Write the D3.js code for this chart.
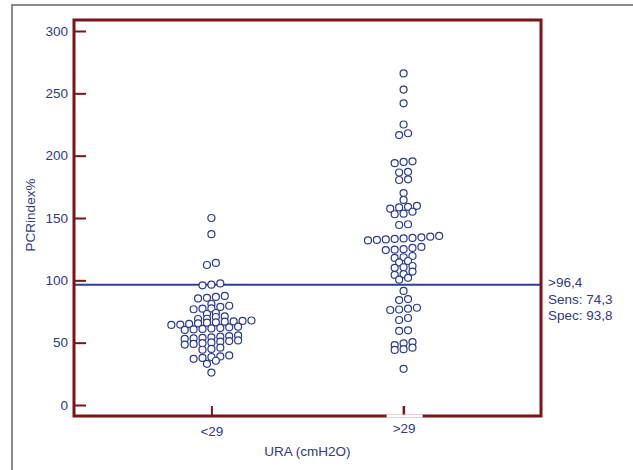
<!DOCTYPE html>
<html lang="en">
<head>
    <meta charset="UTF-8">
    <title>PCRindex% by URA - D3.js</title>
    <script src="https://d3js.org/d3.v7.min.js"></script>
    <style>
        body { margin: 0; background: #fff; }
        text { font-family: "Liberation Sans", Arial, sans-serif; font-size: 13.5px; fill: #2e3a85; }
        .dot { fill: #fff; stroke: #2b3a8c; stroke-width: 1.2px; }
    </style>
</head>
<body>
<svg width="633" height="470"></svg>
<script>
    // categories and values
    const categories = ["<29", ">29"];
    const lowGroup = [150, 137, 114, 112.3,
        96, 96.5, 97.5,
        85.5, 86, 86.7, 87.5,
        81,
        76.8, 77.3, 77.5, 78.7, 79.6,
        73, 73.8,
        69, 69.2, 70.6, 71.1,
        64.2, 64.5, 65, 65.5, 66, 66.3, 66.8, 67, 67.4, 67.8,
        60.2, 60.6, 61, 61.4, 61.8, 62.3, 62.8,
        53, 53.4, 53.8, 54.3, 54.8, 55.3, 55.8,
        48.5, 49, 49.6, 50.2, 50.8, 51.3, 51.8,
        44.3, 45, 46,
        37, 37.8, 38.5, 39, 39.8,
        33, 35.5,
        26];
    const highGroup = [266, 253, 242, 225, 216.5, 218,
        194, 195, 195.5,
        186.5, 187,
        180.5, 181,
        170, 164.5,
        157.5, 158.5, 159, 159.8,
        153, 153.5, 155,
        144.4, 145,
        132, 132.4, 132.8, 133.2, 133.6, 134, 134.5, 135, 135.6,
        124.3, 124.6, 125, 126, 126.8,
        118, 118.5, 119.5,
        114.4, 115.5,
        110, 110.5, 111.5,
        104.3, 105, 107,
        100.5, 102,
        91.5,
        84.2, 85,
        76.2, 76.6, 77.3, 78,
        68.2, 69.8,
        59.4, 59.9,
        48.1, 49.5, 50.5,
        44.2, 44.8, 46,
        29];
    const yTicks = [0, 50, 100, 150, 200, 250, 300];
    const cutoff = 96.4;
    const cutoffLabels = [">96,4", "Sens: 74,3", "Spec: 93,8"];
    const xTitle = "URA (cmH2O)";
    const yTitle = "PCRindex%";

    const plotLeft = 74, plotRight = 541, plotTop = 20, plotBottom = 416;
    const frameColor = "#7a1418";
    const binWidth = 4;   // values in the same bin sit in one row
    const step = 8.9;     // horizontal spacing of dots in a row

    const svg = d3.select("svg");

    const x = d3.scalePoint().domain(categories).range([plotLeft, plotRight]).padding(0.715);
    const y = d3.scaleLinear().domain([0, 300]).range([405, 31]);

    // outer grey border
    svg.append("path")
        .attr("d", "M12,470V5H633")
        .attr("fill", "none")
        .attr("stroke", "#666")
        .attr("stroke-width", 1.5);

    // dot layout: rows by bin, centred on the category
    function layout(values, cat) {
        const bins = d3.group(values, v => Math.floor(v / binWidth));
        const out = [];
        bins.forEach(row => {
            const sorted = row.slice().sort(d3.ascending);
            sorted.forEach((v, i) => {
                out.push({ value: v, cx: x(cat) + (i - (sorted.length - 1) / 2) * step });
            });
        });
        return out;
    }
    const dots = layout(lowGroup, categories[0]).concat(layout(highGroup, categories[1]));

    // cutoff line
    svg.append("line")
        .attr("x1", plotLeft).attr("x2", plotRight)
        .attr("y1", y(cutoff)).attr("y2", y(cutoff))
        .attr("stroke", "#2b3f9a")
        .attr("stroke-width", 2);

    svg.append("g")
        .selectAll("circle")
        .data(dots)
        .enter().append("circle")
        .attr("class", "dot")
        .attr("cx", d => d.cx)
        .attr("cy", d => y(d.value))
        .attr("r", 3.5);

    // y axis, ticks pointing inward
    const yAxis = svg.append("g")
        .attr("transform", `translate(${plotLeft},0)`)
        .call(d3.axisLeft(y).tickValues(yTicks).tickSizeInner(-12).tickSizeOuter(0).tickPadding(6));
    yAxis.select(".domain").remove();
    yAxis.selectAll("line").attr("stroke", frameColor).attr("stroke-width", 2);
    yAxis.selectAll("text").style("font-size", "13.5px").style("font-family", null).attr("fill", null);
    yAxis.attr("font-family", null).attr("font-size", null);

    // x axis
    const xAxis = svg.append("g")
        .attr("transform", `translate(0,${plotBottom})`)
        .call(d3.axisBottom(x).tickSizeInner(-10).tickSizeOuter(0).tickPadding(10));
    xAxis.select(".domain").remove();
    xAxis.selectAll("line").attr("stroke", frameColor).attr("stroke-width", 2);
    xAxis.selectAll("text").attr("fill", null)
        .attr("dy", (d, i) => i === 1 ? "0.5em" : "0.71em");
    xAxis.attr("font-family", null).attr("font-size", null);

    // plot frame
    svg.append("rect")
        .attr("x", plotLeft).attr("y", plotTop)
        .attr("width", plotRight - plotLeft).attr("height", plotBottom - plotTop)
        .attr("fill", "none")
        .attr("stroke", frameColor)
        .attr("stroke-width", 3);

    // white gap in the bottom edge around the second label
    svg.append("rect")
        .attr("x", x(categories[1]) - 17).attr("y", plotBottom - 1.6)
        .attr("width", 36).attr("height", 3.2)
        .attr("fill", "#fff");
    svg.append("line")
        .attr("x1", x(categories[1])).attr("x2", x(categories[1]))
        .attr("y1", plotBottom - 10).attr("y2", plotBottom - 1.6)
        .attr("stroke", frameColor).attr("stroke-width", 2);

    svg.append("g")
        .selectAll("text")
        .data(cutoffLabels)
        .enter().append("text")
        .attr("x", plotRight + 7)
        .attr("y", (d, i) => 287 + i * 16.5)
        .text(d => d);

    svg.append("text")
        .attr("x", (plotLeft + plotRight) / 2)
        .attr("y", 456)
        .attr("text-anchor", "middle")
        .text(xTitle);

    svg.append("text")
        .attr("transform", `translate(35,${(plotTop + plotBottom) / 2 - 3}) rotate(-90)`)
        .attr("text-anchor", "middle")
        .text(yTitle);
</script>
</body>
</html>
